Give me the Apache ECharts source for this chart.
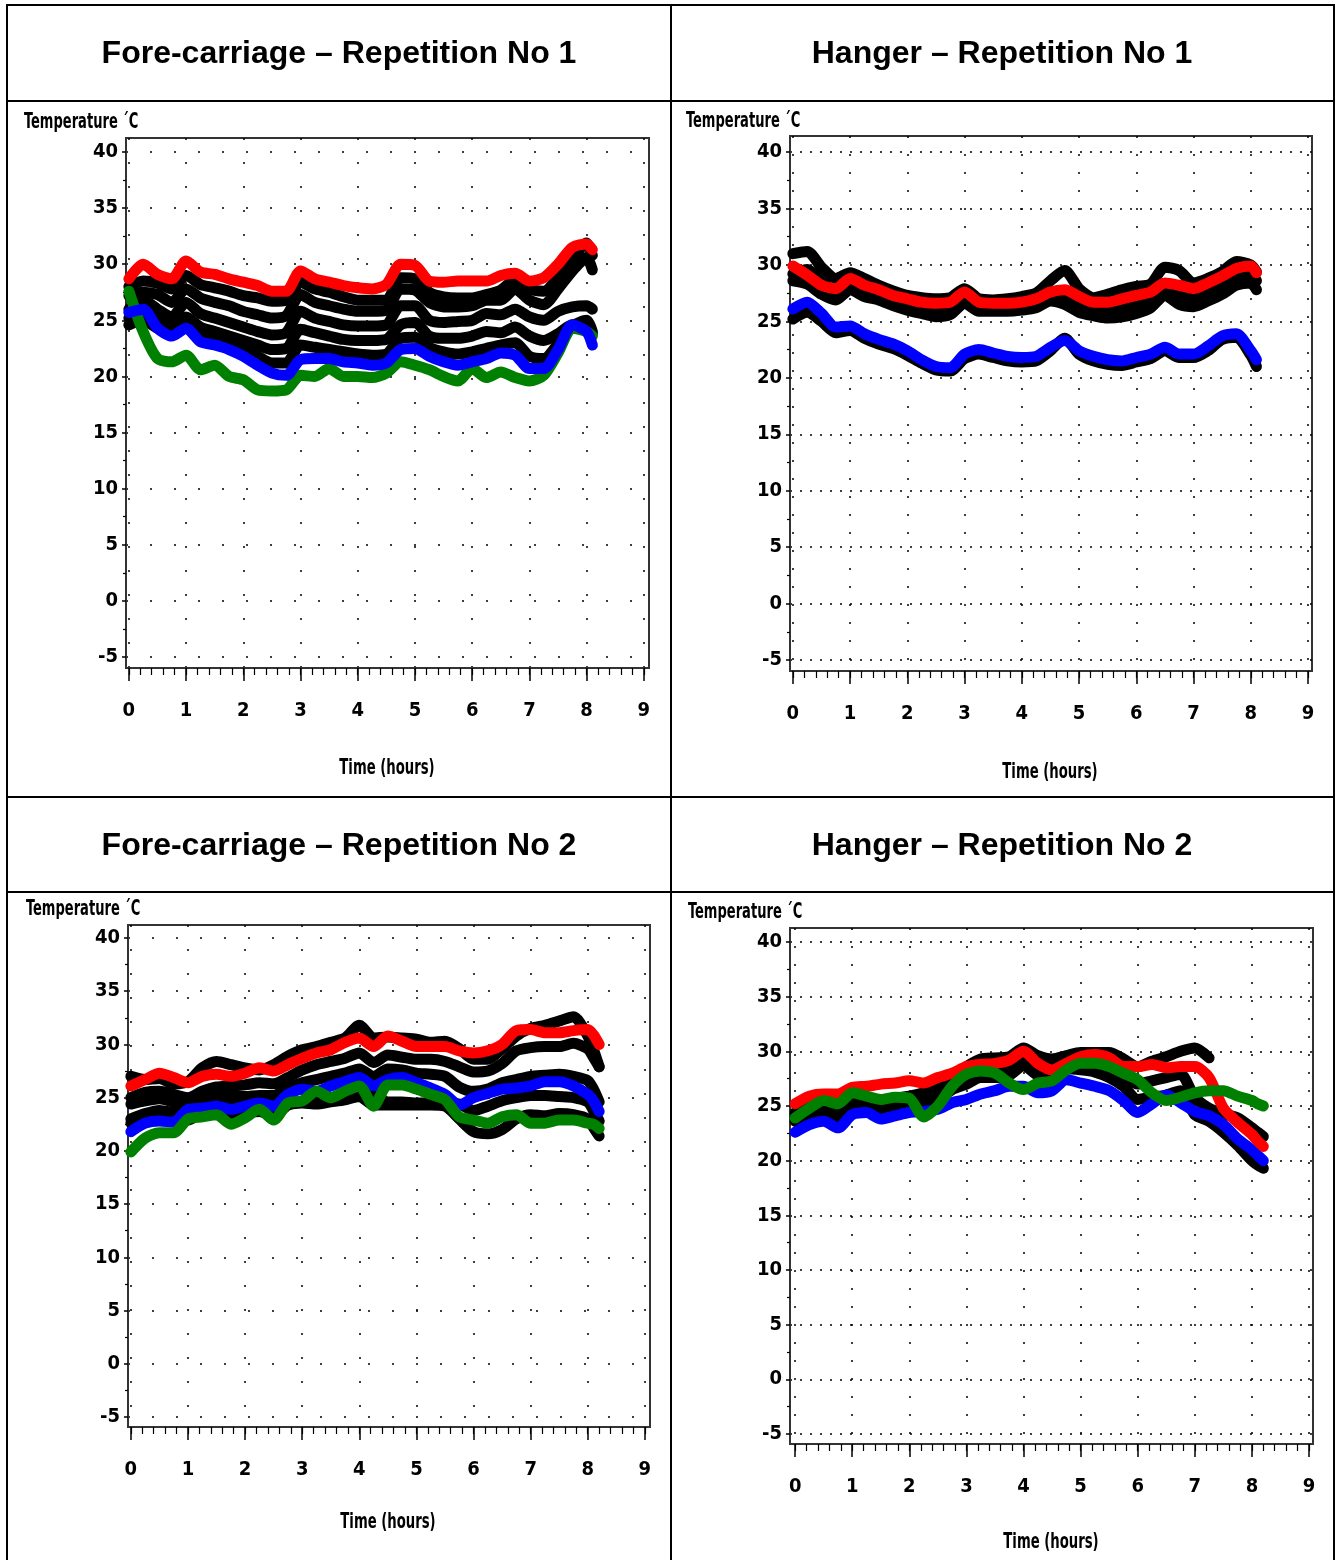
<!DOCTYPE html>
<html>
<head>
<meta charset="utf-8">
<script src="https://cdn.jsdelivr.net/npm/echarts@6/dist/echarts.min.js"></script>
<style>
  html, body { margin: 0; padding: 0; background: #fff; }
  #chart { width: 1338px; height: 1560px; }
</style>
</head>
<body>
<div id="chart"></div>
<script>
// Sampling times (hours) for each repetition
const timeRep1 = [0,0.25,0.5,0.75,1,1.25,1.5,1.75,2,2.25,2.5,2.75,3,3.25,3.5,3.75,4,4.25,4.5,4.75,5,5.25,5.5,5.75,6,6.25,6.5,6.75,7,7.25,7.5,7.75,8,8.1];
const timeRep2 = [0,0.25,0.5,0.75,1,1.25,1.5,1.75,2,2.25,2.5,2.75,3,3.25,3.5,3.75,4,4.25,4.5,4.75,5,5.25,5.5,5.75,6,6.25,6.5,6.75,7,7.25,7.5,7.75,8,8.1,8.2];

// Axis tick labels
const hourTicks = [0,1,2,3,4,5,6,7,8,9];
const tempTicks = [-5,0,5,10,15,20,25,30,35,40];
const tempMinorTicks = [-2.5,2.5,7.5,12.5,17.5,22.5,27.5,32.5,37.5];

// Panel titles
const panelTitles = [
  'Fore-carriage \u2013 Repetition No 1',
  'Hanger \u2013 Repetition No 1',
  'Fore-carriage \u2013 Repetition No 2',
  'Hanger \u2013 Repetition No 2'
];
const yTitle = 'Temperature \u00b4C';
const xTitle = 'Time (hours)';

// Fore-carriage, repetition 1 (°C)
const fc1Red   = [28.7,30.0,29.1,28.7,30.3,29.3,29.1,28.7,28.4,28.1,27.6,27.6,29.4,28.7,28.4,28.1,27.9,27.8,28.2,30.0,29.9,28.5,28.4,28.5,28.5,28.5,29.0,29.2,28.5,28.8,30.0,31.5,31.8,31.3];
const fc1Blue  = [25.7,26.0,24.3,23.6,24.3,23.1,22.8,22.4,21.8,21.0,20.3,20.1,21.5,21.6,21.6,21.3,21.2,21.0,21.2,22.4,22.5,21.8,21.3,21.0,21.3,21.6,22.1,21.9,20.7,20.7,22.4,24.6,24.0,22.8];
const fc1Green = [27.6,24.0,21.6,21.3,21.9,20.6,21.0,20.0,19.7,18.8,18.7,18.8,20.1,20.0,20.7,20.0,20.0,19.9,20.3,21.3,21.0,20.6,20.0,19.6,20.7,19.9,20.4,19.9,19.6,20.1,22.1,24.3,24.0,23.6];
const fc1Black1 = [28.0,28.5,28.3,27.8,29.0,28.2,27.9,27.6,27.2,27.0,26.7,26.8,28.4,27.8,27.5,27.1,26.8,26.8,26.8,28.8,28.7,27.5,27.1,27.0,27.0,27.3,27.7,28.6,27.8,27.6,28.8,30.5,31.9,30.8];
const fc1Black2 = [27.2,27.5,27.3,26.6,27.8,27.0,26.6,26.3,25.8,25.5,25.2,25.4,27.3,26.6,26.3,26.0,25.8,25.8,25.9,27.8,27.7,26.6,26.2,26.2,26.3,26.8,26.8,27.8,26.8,26.4,27.8,29.4,30.6,29.5];
const fc1Black3 = [26.0,26.8,26.0,25.3,26.6,25.6,25.2,24.8,24.4,24.0,23.7,23.9,25.8,25.2,24.9,24.6,24.5,24.5,24.6,26.3,26.3,25.0,24.8,24.9,25.0,25.6,25.5,26.0,25.3,25.0,25.8,26.2,26.3,26.0];
const fc1Black4 = [25.2,25.8,25.0,24.4,25.3,24.4,24.0,23.6,23.2,22.8,22.4,22.5,24.2,23.9,23.6,23.3,23.2,23.2,23.3,24.6,24.8,23.6,23.4,23.4,23.6,24.0,23.9,24.4,23.6,23.2,23.8,24.6,24.2,23.8];
const fc1Black5 = [24.6,25.0,24.3,23.8,24.6,23.6,23.2,22.8,22.4,21.8,21.2,21.2,22.8,22.6,22.4,22.2,22.0,21.9,22.0,23.4,23.5,22.6,22.2,22.0,22.2,22.5,22.8,23.0,21.8,21.6,22.9,24.5,25.0,24.0];

// Hanger, repetition 1 (°C)
const hg1Red   = [29.9,29.1,28.2,27.9,28.8,28.2,27.8,27.3,27.0,26.7,26.6,26.7,27.6,26.7,26.6,26.6,26.7,27.0,27.6,27.8,27.2,26.7,26.7,27.0,27.3,27.6,28.4,28.2,27.9,28.4,29.0,29.7,29.9,29.3];
const hg1Blue  = [26.1,26.7,25.7,24.5,24.6,23.9,23.4,23.0,22.4,21.6,21.0,20.9,22.1,22.5,22.2,21.9,21.8,21.9,22.7,23.3,22.4,21.9,21.6,21.5,21.8,22.1,22.7,22.1,22.1,22.8,23.7,23.9,22.4,21.6];
const hg1Black1 = [31.0,31.2,29.8,28.8,29.3,28.8,28.2,27.7,27.3,27.1,27.0,27.1,27.9,27.0,26.9,27.0,27.2,27.5,28.6,29.5,27.9,27.1,27.4,27.8,28.1,28.3,29.8,29.5,28.4,28.8,29.4,30.3,30.0,29.4];
const hg1Black2 = [29.2,29.6,28.5,27.7,28.5,27.9,27.5,27.0,26.6,26.3,26.1,26.2,27.2,26.4,26.3,26.3,26.4,26.7,27.4,27.2,26.4,26.0,25.9,26.1,26.4,26.9,28.0,27.4,27.0,27.5,28.2,29.0,29.2,28.6];
const hg1Black3 = [28.6,28.3,27.4,26.9,27.8,27.2,26.9,26.4,26.0,25.7,25.4,25.6,26.6,25.9,25.9,25.9,26.0,26.2,26.8,26.5,25.8,25.5,25.3,25.4,25.7,26.2,27.3,26.5,26.3,26.8,27.4,28.2,28.4,27.8];
const hg1Black4 = [25.2,25.8,25.0,24.0,24.2,23.5,23.0,22.6,22.0,21.3,20.7,20.6,21.7,22.1,21.8,21.5,21.4,21.5,22.4,23.5,22.1,21.5,21.2,21.1,21.4,21.7,22.4,21.8,21.8,22.4,23.4,23.6,22.0,21.0];

// Fore-carriage, repetition 2 (°C)
const fc2Red   = [26.1,26.7,27.3,26.9,26.4,27.0,27.2,27.0,27.3,27.8,27.5,28.1,28.7,29.2,29.5,30.2,30.6,29.8,30.8,30.3,29.8,29.8,29.8,29.4,29.2,29.4,30.0,31.3,31.4,31.1,31.1,31.3,31.4,30.9,30.0];
const fc2Blue  = [21.8,22.6,22.8,22.7,23.9,24.0,24.2,23.9,24.2,24.5,24.2,25.3,25.8,25.6,26.1,26.5,26.9,26.1,26.7,26.9,26.4,25.9,25.3,24.3,25.0,25.4,25.8,25.9,26.1,26.5,26.5,26.1,25.3,24.7,23.7];
const fc2Green = [19.9,21.2,21.7,21.7,23.0,23.2,23.4,22.5,23.1,23.9,22.9,24.5,24.7,25.6,25.0,25.6,26.1,24.2,26.2,26.2,25.8,25.3,24.8,23.2,22.9,22.6,23.2,23.4,22.6,22.6,22.9,22.9,22.6,22.5,22.1];
const fc2Black1 = [27.0,26.7,26.8,26.3,26.5,27.8,28.4,28.1,27.8,27.6,28.1,28.9,29.5,29.8,30.2,30.6,31.8,30.6,30.7,30.6,30.5,30.2,30.3,29.6,28.6,28.6,29.6,30.8,31.5,31.8,32.2,32.6,30.8,29.5,27.9];
const fc2Black2 = [25.0,25.5,25.6,25.3,25.0,25.6,26.0,26.1,26.2,26.4,26.3,26.9,27.6,28.1,28.4,28.7,29.2,28.3,29.0,28.8,28.6,28.6,28.4,27.9,27.4,27.5,28.2,29.4,29.7,29.8,29.8,30.1,29.6,28.8,27.9];
const fc2Black3 = [24.4,24.7,24.9,24.6,24.3,24.9,25.2,25.3,25.1,25.2,25.2,25.9,26.4,26.7,27.0,27.3,27.7,27.0,27.7,27.6,27.3,27.2,27.0,26.0,25.6,25.8,26.4,26.7,27.0,27.1,27.2,27.0,26.6,25.8,24.6];
const fc2Black4 = [23.0,23.5,23.8,23.6,23.4,24.2,24.5,24.3,24.4,24.4,24.0,24.6,24.6,24.8,25.0,25.2,25.4,25.3,24.6,24.6,24.5,24.5,24.5,24.4,23.8,24.2,24.7,25.0,25.2,25.2,25.1,25.0,24.6,23.8,22.8];
const fc2Black5 = [22.6,23.1,23.2,23.0,22.9,23.6,23.8,23.5,23.6,23.7,23.3,24.3,24.5,24.4,24.6,24.8,25.1,24.3,24.3,24.3,24.3,24.3,24.2,23.0,21.8,21.6,22.0,23.0,23.4,23.3,23.5,23.4,23.0,22.2,21.4];

// Hanger, repetition 2 (°C)
const hg2Red   = [25.2,25.9,26.1,26.1,26.7,26.8,27.0,27.1,27.3,27.1,27.6,28.0,28.6,28.8,28.9,29.2,30.0,28.9,28.3,28.9,29.5,29.7,29.4,28.6,28.6,28.8,28.5,28.6,28.6,27.6,24.8,23.5,22.4,21.8,21.3];
const hg2Blue  = [22.6,23.3,23.6,23.0,24.2,24.4,23.8,24.1,24.4,24.5,24.7,25.3,25.6,26.1,26.4,26.8,26.8,26.2,26.4,27.4,27.1,26.8,26.4,25.5,24.4,25.2,26.0,25.3,24.5,24.1,23.3,22.0,21.0,20.5,20.0];
const hg2Green = [23.9,24.8,25.5,25.2,26.2,25.9,25.6,25.8,25.7,24.0,25.0,26.8,27.9,28.2,28.0,27.1,26.5,27.1,27.3,28.3,28.9,28.9,28.6,28.0,27.4,26.2,25.5,25.8,26.2,26.4,26.4,25.9,25.5,25.2,25.0];
const hg2Black1 = [24.4,24.9,25.0,24.7,25.6,25.7,25.5,25.7,25.9,26.2,26.6,27.6,28.6,29.3,29.4,29.5,30.3,29.6,29.3,29.6,29.9,29.9,29.9,29.3,28.6,29.1,29.5,30.0,30.3,29.4,null,null,null,null,null];
const hg2Black2 = [24.0,24.6,24.7,24.4,25.3,25.4,25.2,25.3,25.5,25.8,26.2,27.0,27.8,28.3,28.4,28.7,29.5,28.6,28.4,29.0,29.0,28.9,28.8,27.9,27.0,27.3,27.6,27.9,25.8,24.8,24.3,23.9,23.0,22.6,22.2];
const hg2Black3 = [23.6,24.2,24.3,24.0,24.9,25.0,24.7,24.9,25.0,25.3,25.6,26.5,27.0,27.6,27.6,27.8,28.7,27.8,27.6,28.4,28.3,28.1,27.6,26.8,25.6,25.8,26.0,26.4,24.2,23.6,22.6,21.4,20.0,19.6,19.3];

const RED = '#ff0000', BLUE = '#0000ff', GREEN = '#008000', BLACK = '#000000';

// Layout of the four plot frames and their value ranges
const panels = [
  { box: {left: 126, top: 138, width: 523, height: 530}, x: [-0.05, 9.09], y: [-5.98, 41.25], time: timeRep1,
    rowDash: [2, 22], colDash: [2, 22],
    lines: [[fc1Black1, BLACK], [fc1Black2, BLACK], [fc1Black3, BLACK], [fc1Black4, BLACK], [fc1Black5, BLACK],
            [fc1Green, GREEN], [fc1Blue, BLUE], [fc1Red, RED]] },
  { box: {left: 790, top: 136, width: 522, height: 535}, x: [-0.05, 9.07], y: [-5.97, 41.42], time: timeRep1,
    rowDash: [2, 8], colDash: [2, 16],
    lines: [[hg1Black1, BLACK], [hg1Black2, BLACK], [hg1Black3, BLACK], [hg1Black4, BLACK],
            [hg1Blue, BLUE], [hg1Red, RED]] },
  { box: {left: 128, top: 925, width: 522, height: 502}, x: [-0.05, 9.09], y: [-5.94, 41.22], time: timeRep2,
    rowDash: [2, 22], colDash: [2, 22],
    lines: [[fc2Black1, BLACK], [fc2Black2, BLACK], [fc2Black3, BLACK], [fc2Black4, BLACK], [fc2Black5, BLACK],
            [fc2Blue, BLUE], [fc2Green, GREEN], [fc2Red, RED]] },
  { box: {left: 790, top: 928, width: 523, height: 516}, x: [-0.09, 9.07], y: [-5.92, 41.28], time: timeRep2,
    rowDash: [2, 8], colDash: [2, 16],
    lines: [[hg2Black1, BLACK], [hg2Black2, BLACK], [hg2Black3, BLACK],
            [hg2Blue, BLUE], [hg2Red, RED], [hg2Green, GREEN]] }
];

// Heading and axis-title anchors per panel
const headingPos = [[339, 54], [1002, 54], [339, 846], [1002, 846]];
const xTitlePos = [[387, 769], [1050, 773], [388, 1523], [1051, 1543]];
const yTitlePos = [[24, 122], [686, 121], [26, 909], [688, 912]];

const NARROW = '"Liberation Sans Narrow", "Arial Narrow", "DejaVu Sans Condensed", sans-serif';
const labelStyle = { fontFamily: NARROW, fontWeight: 'bold', fontSize: 20, color: '#000' };

const minorHourTicks = [];
for (let h = 0; h <= 9.0001; h += 0.2) minorHourTicks.push(Math.round(h * 10) / 10);

const grids = [], xAxes = [], yAxes = [], series = [];
panels.forEach((p, i) => {
  grids.push(Object.assign({ show: true, borderColor: '#333', borderWidth: 2, containLabel: false, outerBoundsMode: 'none' }, p.box));
  // main time axis
  xAxes.push({
    gridIndex: i, type: 'value', min: p.x[0], max: p.x[1], position: 'bottom',
    axisLine: { show: true, onZero: false, lineStyle: { color: '#333', width: 2 } },
    axisTick: { show: true, length: 13, customValues: hourTicks, lineStyle: { color: '#000', width: 1.5 } },
    axisLabel: Object.assign({ customValues: hourTicks, margin: 33 }, labelStyle),
    splitLine: { show: true, lineStyle: { color: '#000', width: 1.5, type: p.colDash } }
  });
  // minor time ticks
  xAxes.push({
    gridIndex: i, type: 'value', min: p.x[0], max: p.x[1], position: 'bottom',
    axisLine: { show: false, onZero: false },
    axisTick: { show: true, length: 7, customValues: minorHourTicks, lineStyle: { color: '#000', width: 1.2 } },
    axisLabel: { show: false }, splitLine: { show: false }
  });
  // main temperature axis
  yAxes.push({
    gridIndex: i, type: 'value', min: p.y[0], max: p.y[1], position: 'left',
    axisLine: { show: true, onZero: false, lineStyle: { color: '#333', width: 2 } },
    axisTick: { show: true, length: 4, customValues: tempTicks, lineStyle: { color: '#000', width: 1.5 } },
    axisLabel: Object.assign({ customValues: tempTicks, margin: 8 }, labelStyle),
    splitLine: { show: true, lineStyle: { color: '#000', width: 1.5, type: p.rowDash } }
  });
  // minor temperature ticks
  yAxes.push({
    gridIndex: i, type: 'value', min: p.y[0], max: p.y[1], position: 'left',
    axisLine: { show: false, onZero: false },
    axisTick: { show: true, length: 3, customValues: tempMinorTicks, lineStyle: { color: '#000', width: 1.2 } },
    axisLabel: { show: false }, splitLine: { show: false }
  });
  p.lines.forEach(([vals, color]) => {
    series.push({
      type: 'line', xAxisIndex: 2 * i, yAxisIndex: 2 * i,
      data: p.time.map((t, k) => [t, vals[k]]),
      symbol: 'none', smooth: 0.25, connectNulls: false,
      lineStyle: { color: color, width: 11, cap: 'round', join: 'round' },
      silent: true, animation: false
    });
  });
});

// Table rules, headings and axis titles
const graphics = [];
const rule = (x1, y1, x2, y2) => graphics.push({
  type: 'line', silent: true, z: 100,
  shape: { x1, y1, x2, y2 }, style: { stroke: '#000', lineWidth: 2 }
});
rule(6, 5, 1335, 5);
rule(7, 5, 7, 1560);
rule(1334, 5, 1334, 1560);
rule(671, 5, 671, 1560);
rule(6, 101, 1335, 101);
rule(6, 797, 1335, 797);
rule(6, 892, 1335, 892);

panelTitles.forEach((txt, i) => {
  graphics.push({
    type: 'text', x: headingPos[i][0], y: headingPos[i][1], silent: true,
    style: { text: txt, font: 'bold 32px "Liberation Sans", Arial, sans-serif', fill: '#000',
             textAlign: 'center', textVerticalAlign: 'middle' }
  });
  graphics.push({
    type: 'text', x: xTitlePos[i][0], y: xTitlePos[i][1], scaleX: 0.7, silent: true,
    style: { text: xTitle, font: 'bold 21px ' + NARROW, fill: '#000',
             textAlign: 'center', textVerticalAlign: 'middle' }
  });
  graphics.push({
    type: 'text', x: yTitlePos[i][0], y: yTitlePos[i][1], scaleX: 0.66, silent: true,
    style: { text: yTitle, font: 'bold 22px ' + NARROW, fill: '#000',
             textAlign: 'left', textVerticalAlign: 'middle' }
  });
});

const chart = echarts.init(document.getElementById('chart'), null, { renderer: 'canvas' });
chart.setOption({
  animation: false,
  backgroundColor: '#fff',
  grid: grids,
  xAxis: xAxes,
  yAxis: yAxes,
  series: series,
  graphic: graphics
});
</script>
</body>
</html>
